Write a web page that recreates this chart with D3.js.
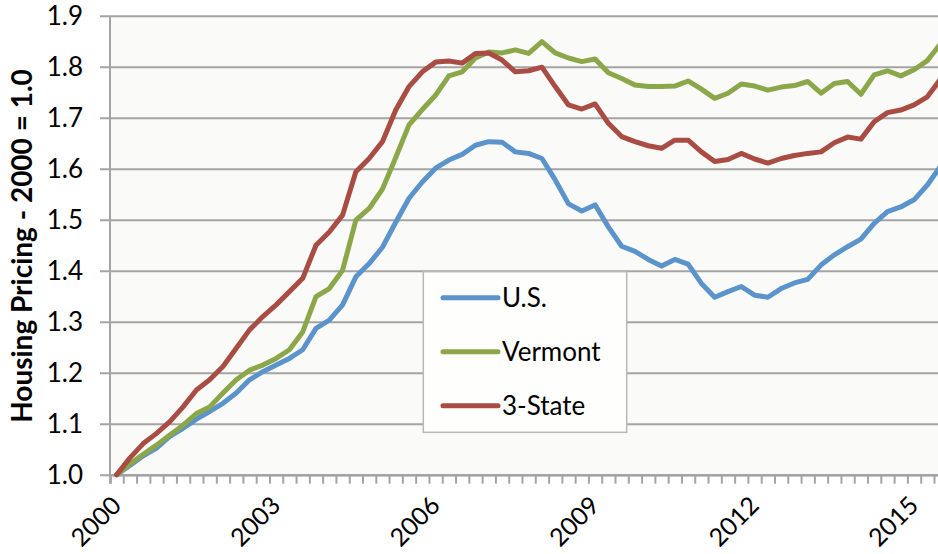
<!DOCTYPE html>
<html>
  <head>
    <meta charset="utf-8">
    <title>Housing Pricing index</title>
    <script src="https://d3js.org/d3.v7.min.js"></script>
    <style>
      body { margin: 0; background: #fff; }
      svg { display: block; font-family: Lato, "Noto Sans", sans-serif; }
      .series { fill: none; stroke-width: 5; stroke-linejoin: round; stroke-linecap: round; }
    </style>
  </head>
  <body>
    <svg width="938" height="554"></svg>
    <script>
      // quarterly index, 2000 Q1 = 1.0
      var quarters = d3.range(63).map(function(i) { return (2000 + Math.floor(i / 4)) + "Q" + (i % 4 + 1); });
      var yearLabels = ["2000", "2003", "2006", "2009", "2012", "2015"];
      var yTicks = [1.0, 1.1, 1.2, 1.3, 1.4, 1.5, 1.6, 1.7, 1.8, 1.9];

      var us = [1.000, 1.018, 1.037, 1.052, 1.075, 1.091, 1.109, 1.124, 1.140, 1.160,
                1.186, 1.202, 1.215, 1.228, 1.245, 1.287, 1.303, 1.333, 1.388, 1.414,
                1.446, 1.495, 1.542, 1.574, 1.601, 1.617, 1.628, 1.646, 1.653, 1.652,
                1.633, 1.630, 1.620, 1.578, 1.531, 1.517, 1.529, 1.486, 1.448, 1.438,
                1.422, 1.409, 1.422, 1.413, 1.375, 1.348, 1.359, 1.369, 1.352, 1.348,
                1.365, 1.376, 1.383, 1.411, 1.431, 1.447, 1.462, 1.493, 1.516, 1.525,
                1.539, 1.568, 1.605];
      var vermont = [1.000, 1.021, 1.040, 1.058, 1.078, 1.097, 1.120, 1.133, 1.160, 1.186,
                1.205, 1.215, 1.228, 1.245, 1.280, 1.349, 1.365, 1.401, 1.499, 1.522,
                1.560, 1.622, 1.686, 1.716, 1.744, 1.782, 1.790, 1.817, 1.829, 1.827,
                1.833, 1.826, 1.849, 1.827, 1.817, 1.810, 1.815, 1.788, 1.777, 1.764,
                1.761, 1.761, 1.762, 1.772, 1.756, 1.738, 1.748, 1.766, 1.762, 1.754,
                1.760, 1.763, 1.771, 1.748, 1.767, 1.771, 1.746, 1.784, 1.792, 1.782,
                1.794, 1.812, 1.845];
      var threeState = [1.000, 1.033, 1.061, 1.081, 1.104, 1.133, 1.166, 1.186, 1.212, 1.248,
                1.284, 1.310, 1.333, 1.359, 1.385, 1.450, 1.476, 1.509, 1.594, 1.620,
                1.653, 1.715, 1.761, 1.790, 1.809, 1.811, 1.807, 1.826, 1.827, 1.813,
                1.790, 1.792, 1.799, 1.761, 1.725, 1.717, 1.727, 1.689, 1.663, 1.653,
                1.645, 1.640, 1.656, 1.656, 1.633, 1.614, 1.618, 1.630, 1.619, 1.611,
                1.620, 1.626, 1.630, 1.633, 1.651, 1.662, 1.658, 1.692, 1.710, 1.715,
                1.725, 1.741, 1.776];

      var seriesNames = ["U.S.", "Vermont", "3-State"];
      var seriesColors = ["#5b93cb", "#8ba74a", "#a84c44"];
      var seriesData = [us, vermont, threeState];

      var plotLeft = 110, plotTop = 15.7, plotBottom = 474.7,
          step = 13.29,
          plotRight = plotLeft + quarters.length * step;

      var svg = d3.select("svg");

      var x = d3.scaleBand()
          .domain(quarters)
          .range([plotLeft, plotRight])
          .padding(0);

      var xEdge = d3.scaleLinear()
          .domain([0, quarters.length])
          .range([plotLeft, plotRight]);

      var y = d3.scaleLinear()
          .domain([1.0, 1.9])
          .range([plotBottom, plotTop]);

      // plot area
      svg.append("rect")
          .attr("x", plotLeft)
          .attr("y", plotTop)
          .attr("width", plotRight - plotLeft)
          .attr("height", plotBottom - plotTop)
          .attr("fill", "#fafaf8");

      // gridlines + y ticks
      var yAxis = svg.append("g")
          .attr("transform", "translate(" + plotLeft + ",0)")
          .call(d3.axisLeft(y)
            .tickValues(yTicks)
            .tickSize(10)
            .tickPadding(17)
            .tickFormat(d3.format(".1f")));
      yAxis.select(".domain").remove();
      yAxis.selectAll(".tick line")
          .attr("x2", plotRight - plotLeft)
          .attr("x1", -10)
          .attr("stroke", "#a4a4a4")
          .attr("stroke-width", 2);
      yAxis.selectAll(".tick text")
          .attr("font-size", 26)
          .attr("font-family", "Lato, sans-serif")
          .attr("fill", "#000");

      svg.append("line")
          .attr("x1", plotLeft).attr("x2", plotLeft)
          .attr("y1", plotTop).attr("y2", plotBottom)
          .attr("stroke", "#a4a4a4")
          .attr("stroke-width", 2);

      // x ticks between quarters
      var xAxis = svg.append("g")
          .attr("transform", "translate(0," + plotBottom + ")")
          .call(d3.axisBottom(xEdge)
            .tickValues(d3.range(0, quarters.length + 1))
            .tickSize(9)
            .tickFormat(""));
      xAxis.select(".domain")
          .attr("stroke", "#a4a4a4")
          .attr("stroke-width", 2.5);
      xAxis.selectAll(".tick line")
          .attr("stroke", "#a4a4a4")
          .attr("stroke-width", 2);

      // year labels
      svg.append("g").selectAll("text")
          .data(yearLabels)
          .enter().append("text")
          .attr("transform", function(d) {
            return "translate(" + (x(d + "Q1") + x.bandwidth() / 2 + 6) + "," + 507 + ") rotate(-45)";
          })
          .attr("text-anchor", "end")
          .attr("font-size", 25)
          .text(function(d) { return d; });

      // y title
      svg.append("text")
          .attr("transform", "translate(32,246) rotate(-90)")
          .attr("text-anchor", "middle")
          .attr("font-size", 28)
          .attr("font-weight", "bold")
          .text("Housing Pricing - 2000 = 1.0");

      // lines
      var line = d3.line()
          .x(function(d, i) { return x(quarters[i]) + x.bandwidth() / 2; })
          .y(function(d) { return y(d); });

      svg.append("g").selectAll("path")
          .data(seriesData)
          .enter().append("path")
          .attr("class", "series")
          .attr("stroke", function(d, i) { return seriesColors[i]; })
          .attr("d", line);

      // legend
      var lg = svg.append("g");
      lg.append("rect")
          .attr("x", 423.3)
          .attr("y", 271.7)
          .attr("width", 203.4)
          .attr("height", 160.6)
          .attr("fill", "#fefefd")
          .attr("stroke", "#b8b8b8")
          .attr("stroke-width", 1.5);

      var item = lg.selectAll(".item")
          .data(seriesNames)
          .enter().append("g")
          .attr("class", "item")
          .attr("transform", function(d, i) { return "translate(0," + (297.7 + i * 54) + ")"; });
      item.append("line")
          .attr("x1", 443).attr("x2", 498)
          .attr("stroke", function(d, i) { return seriesColors[i]; })
          .attr("stroke-width", 5)
          .attr("stroke-linecap", "round");
      item.append("text")
          .attr("x", 502)
          .attr("y", 9)
          .attr("font-size", 26)
          .text(function(d) { return d; });
    </script>
  </body>
</html>
